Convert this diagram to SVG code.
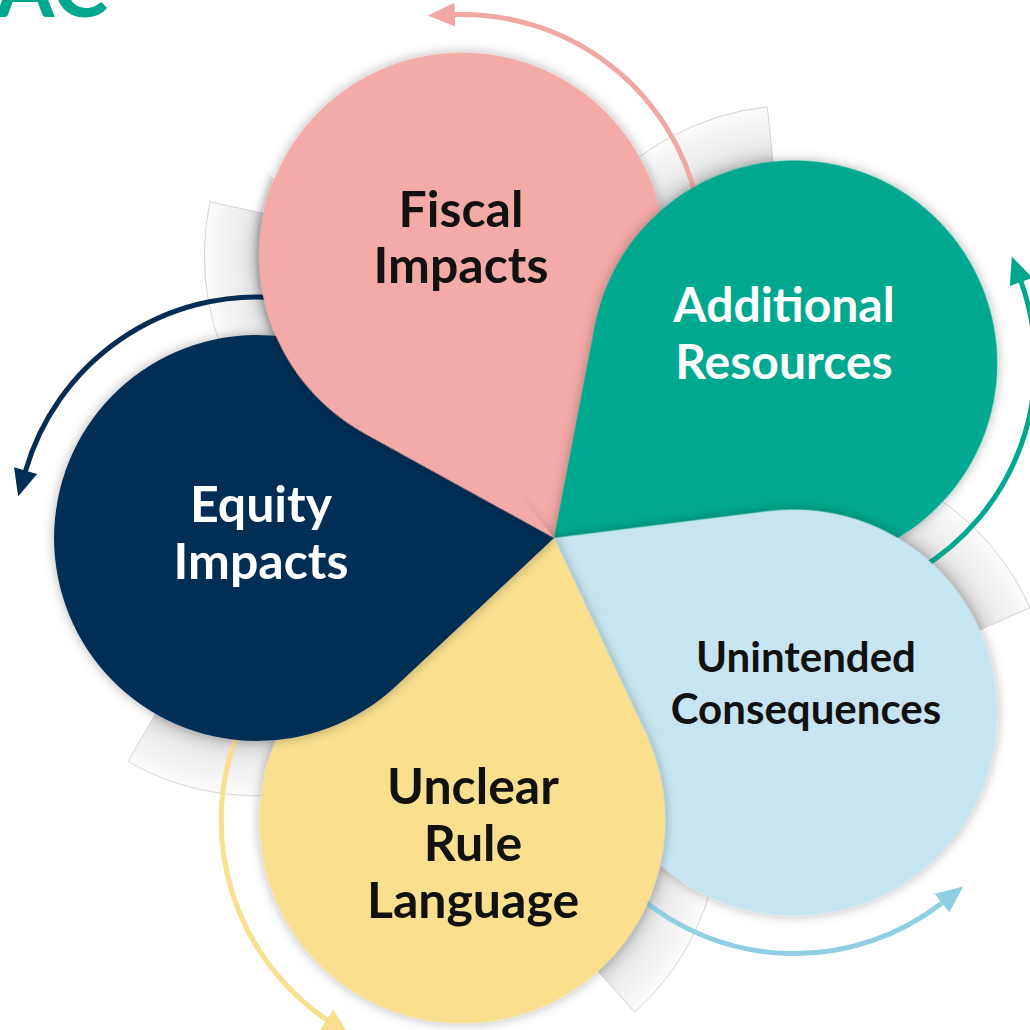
<svg xmlns="http://www.w3.org/2000/svg" width="1030" height="1030" viewBox="0 0 1030 1030">
<defs>
<style>
.lbl{font-family:Lato,"Liberation Sans",sans-serif;font-weight:700;text-anchor:middle;font-size:50px}
.dark{fill:#111111}
.light{fill:#ffffff}
.arr{fill:none;stroke-width:5}
.ring{fill:url(#ringGrad);stroke:#c6c6c6;stroke-width:0.7}
.pet{filter:url(#sh)}
</style>
<path id="petal" d="M0,0 L158.2,-148.2 A203,203 0 1 1 158.2,148.2 Z"/>
<radialGradient id="ringGrad" gradientUnits="userSpaceOnUse" cx="297" cy="0" r="258">
<stop offset="0.78" stop-color="#d2d2d2"/>
<stop offset="0.86" stop-color="#ebebeb"/>
<stop offset="1" stop-color="#fcfcfc"/>
</radialGradient>
<filter id="sh" x="-25%" y="-25%" width="150%" height="150%">
<feDropShadow dx="0" dy="0" stdDeviation="6" flood-color="#000" flood-opacity="0.3"/>
</filter>
<marker id="mPink" markerUnits="userSpaceOnUse" markerWidth="32" markerHeight="30" viewBox="-2 -15 32 30" refX="0" refY="0" orient="auto"><path d="M-1,-12 L26,0 L-1,12 Z" fill="#f1a7a3"/></marker>
<marker id="mTeal" markerUnits="userSpaceOnUse" markerWidth="32" markerHeight="30" viewBox="-2 -15 32 30" refX="0" refY="0" orient="auto"><path d="M-1,-12 L26,0 L-1,12 Z" fill="#00a88f"/></marker>
<marker id="mBlue" markerUnits="userSpaceOnUse" markerWidth="32" markerHeight="30" viewBox="-2 -15 32 30" refX="0" refY="0" orient="auto"><path d="M-1,-12 L26,0 L-1,12 Z" fill="#8ecfe4"/></marker>
<marker id="mYellow" markerUnits="userSpaceOnUse" markerWidth="32" markerHeight="30" viewBox="-2 -15 32 30" refX="0" refY="0" orient="auto"><path d="M-1,-12 L26,0 L-1,12 Z" fill="#f9df8e"/></marker>
<marker id="mNavy" markerUnits="userSpaceOnUse" markerWidth="32" markerHeight="30" viewBox="-2 -15 32 30" refX="0" refY="0" orient="auto"><path d="M-1,-12 L26,0 L-1,12 Z" fill="#022d54"/></marker>
<clipPath id="wedge"><polygon points="554,538 -146,538 -146,-14 123,-14"/></clipPath>
</defs>

<rect width="1030" height="1030" fill="#ffffff"/>

<text x="-4" y="17" style="font-family:Lato,'Liberation Sans',sans-serif;font-weight:700;font-size:84px;fill:#00a88f">AC</text>

<g id="rings">
<path class="ring" transform="translate(554 538) rotate(252)" d="M372,-129.9 L426,-223.4 A258,258 0 0 0 73.6,-129 L167.1,-75 A150,150 0 0 1 372,-129.9 Z"/>
<path class="ring" transform="translate(554 538) rotate(324)" d="M372,-129.9 L426,-223.4 A258,258 0 0 0 73.6,-129 L167.1,-75 A150,150 0 0 1 372,-129.9 Z"/>
<path class="ring" transform="translate(554 538) rotate(36)" d="M372,-129.9 L426,-223.4 A258,258 0 0 0 73.6,-129 L167.1,-75 A150,150 0 0 1 372,-129.9 Z"/>
<path class="ring" transform="translate(554 538) rotate(108)" d="M372,-129.9 L426,-223.4 A258,258 0 0 0 73.6,-129 L167.1,-75 A150,150 0 0 1 372,-129.9 Z"/>
<path class="ring" transform="translate(554 538) rotate(180)" d="M372,-129.9 L426,-223.4 A258,258 0 0 0 73.6,-129 L167.1,-75 A150,150 0 0 1 372,-129.9 Z"/>
</g>

<g id="connectors">
<path class="arr" stroke="#f1a7a3" marker-end="url(#mPink)" transform="translate(554 538) rotate(252)" d="M276,240.1 A241,241 0 0 0 528.7,66.4"/>
<path class="arr" stroke="#00a88f" marker-end="url(#mTeal)" transform="translate(554 538) rotate(324)" d="M276,240.1 A241,241 0 0 0 528.7,66.4"/>
<path class="arr" stroke="#8ecfe4" marker-end="url(#mBlue)" transform="translate(554 538) rotate(36)" d="M276,240.1 A241,241 0 0 0 528.7,66.4"/>
<path class="arr" stroke="#f9df8e" marker-end="url(#mYellow)" transform="translate(554 538) rotate(108)" d="M276,240.1 A241,241 0 0 0 528.7,66.4"/>
<path class="arr" stroke="#022d54" marker-end="url(#mNavy)" transform="translate(554 538) rotate(180)" d="M276,240.1 A241,241 0 0 0 528.7,66.4"/>
</g>

<g id="node-fiscal">
<use href="#petal" class="pet" fill="#f4aaa6" transform="translate(554 538) rotate(252)"/>
<text class="lbl dark" x="461" y="227">Fiscal</text>
<text class="lbl dark" x="461" y="283">Impacts</text>
</g>

<g id="node-additional">
<use href="#petal" class="pet" fill="#00a88f" transform="translate(554 538) rotate(324)"/>
<text class="lbl light" x="784" y="322" style="font-size:48px">Additional</text>
<text class="lbl light" x="784" y="379" style="font-size:48px">Resources</text>
</g>

<g id="node-unintended">
<use href="#petal" class="pet" fill="#c6e5f0" transform="translate(554 538) rotate(36)"/>
<text class="lbl dark" x="806" y="672" style="font-size:42px">Unintended</text>
<text class="lbl dark" x="806" y="724" style="font-size:42px">Consequences</text>
</g>

<g id="node-unclear">
<use href="#petal" class="pet" fill="#f9df8e" transform="translate(554 538) rotate(108)"/>
<text class="lbl dark" x="473" y="804">Unclear</text>
<text class="lbl dark" x="473" y="861">Rule</text>
<text class="lbl dark" x="473" y="918">Language</text>
</g>

<g id="node-equity">
<use href="#petal" class="pet" fill="#022d54" transform="translate(554 538) rotate(180)"/>
<text class="lbl light" x="261" y="522">Equity</text>
<text class="lbl light" x="261" y="579">Impacts</text>
</g>

<g id="fiscal-overlap" clip-path="url(#wedge)">
<use href="#petal" class="pet" fill="#f4aaa6" transform="translate(554 538) rotate(252)"/>
</g>
</svg>
